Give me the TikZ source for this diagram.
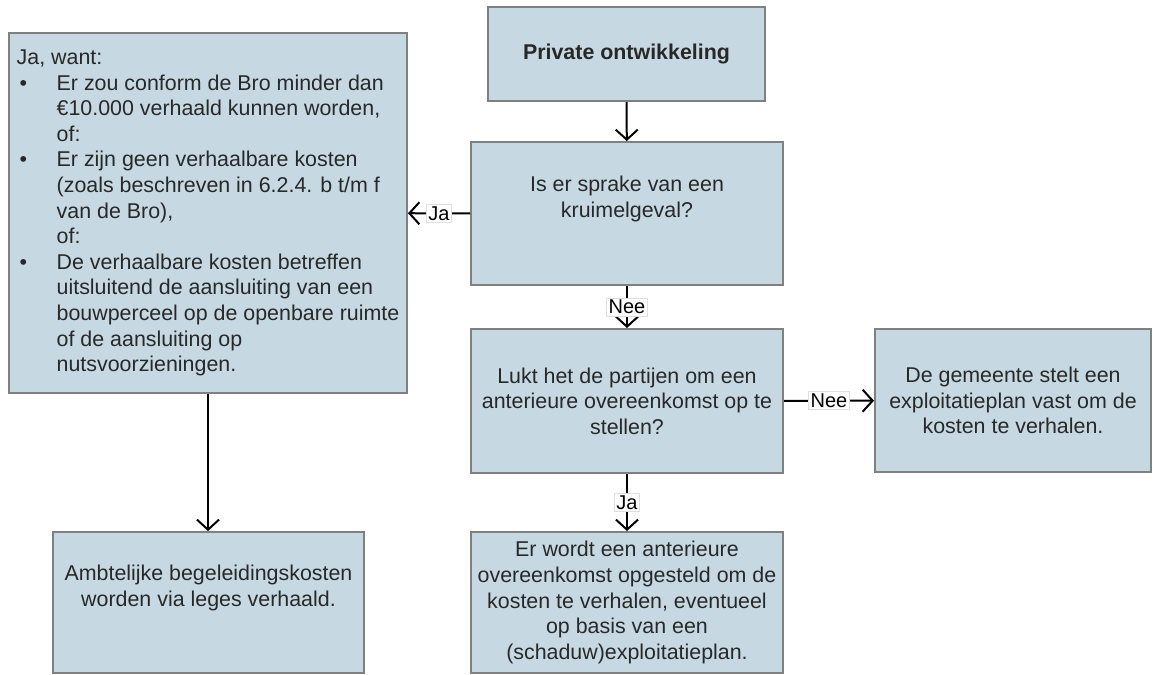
\documentclass[tikz,border=0pt]{standalone}
\usepackage{fontspec}
\setmainfont{Liberation Sans}
\usetikzlibrary{arrows.meta}

\definecolor{vakblauw}{RGB}{198,217,226}
\definecolor{vakrand}{RGB}{128,128,128}
\definecolor{tekstgrijs}{RGB}{40,40,40}

\newcommand{\opsom}{\makebox[20pt][l]{\hspace{1.5pt}\textbullet}}
\newcommand{\inspr}{\hspace*{20pt}}

\tikzset{
	vak/.style={draw=vakrand, line width=1pt, fill=vakblauw, text=tekstgrijs, align=center, inner sep=0pt, font=\fontsize{10.7}{12.8}\selectfont},
	pijl/.style={-{Straight Barb[length=5pt,width=11pt]}, line width=1pt},
	keuze/.style={fill=white, draw=gray!25, line width=0.4pt, inner sep=1pt, font=\fontsize{10}{12}\selectfont, text=black}
}

\begin{document}
\begin{tikzpicture}[x=0.5pt,y=-0.5pt]
	\useasboundingbox (0,0) rectangle (1153,675);

	\node[vak, minimum width=138.5pt, minimum height=47pt] (privaat) at (626.5,54) {\textbf{Private ontwikkeling}};
	\node[vak, minimum width=156pt, minimum height=71.5pt] (kruimel) at (627,213.5) {Is er sprake van een\\kruimelgeval?\\\strut};
	\node[vak, minimum width=156pt, minimum height=72pt] (lukt) at (627,401) {Lukt het de partijen om een\\anterieure overeenkomst op te\\stellen?};
	\node[vak, minimum width=138pt, minimum height=71.5pt] (exploitatie) at (1013,400.5) {De gemeente stelt een\\exploitatieplan vast om de\\kosten te verhalen.};
	\node[vak, minimum width=156pt, minimum height=70.5pt] (anterieur) at (627,602.5) {Er wordt een anterieure\\overeenkomst opgesteld om de\\kosten te verhalen, eventueel\\op basis van een\\(schaduw)exploitatieplan.};
	\node[vak, minimum width=155.5pt, minimum height=70.5pt] (leges) at (208.5,602.5) {Ambtelijke begeleidingskosten\\worden via leges verhaald.\\\strut};

	% lijst met redenen
	\node[vak, minimum width=199pt, minimum height=180pt, inner xsep=3.5pt, align=left] (want) at (208,213) {Ja, want:\\
		\opsom Er zou conform de Bro minder dan\\
		\inspr €10.000 verhaald kunnen worden,\\
		\inspr of:\\
		\opsom Er zijn geen verhaalbare kosten\\
		\inspr (zoals beschreven in 6.2.4. b t/m f\\
		\inspr van de Bro),\\
		\inspr of:\\
		\opsom De verhaalbare kosten betreffen\\
		\inspr uitsluitend de aansluiting van een\\
		\inspr bouwperceel op de openbare ruimte\\
		\inspr of de aansluiting op\\
		\inspr nutsvoorzieningen.};

	\draw[pijl] (privaat) -- (kruimel);
	\draw[pijl] (kruimel) -- node[keuze] {Ja} (want);
	\draw[pijl] (kruimel) -- node[keuze] {Nee} (lukt);
	\draw[pijl] (lukt) -- node[keuze] {Nee} (exploitatie);
	\draw[pijl] (lukt) -- node[keuze] {Ja} (anterieur);
	\draw[pijl] (want) -- (want |- leges.north);
	%\draw[pijl] (want) -- (leges);
\end{tikzpicture}
\end{document}
